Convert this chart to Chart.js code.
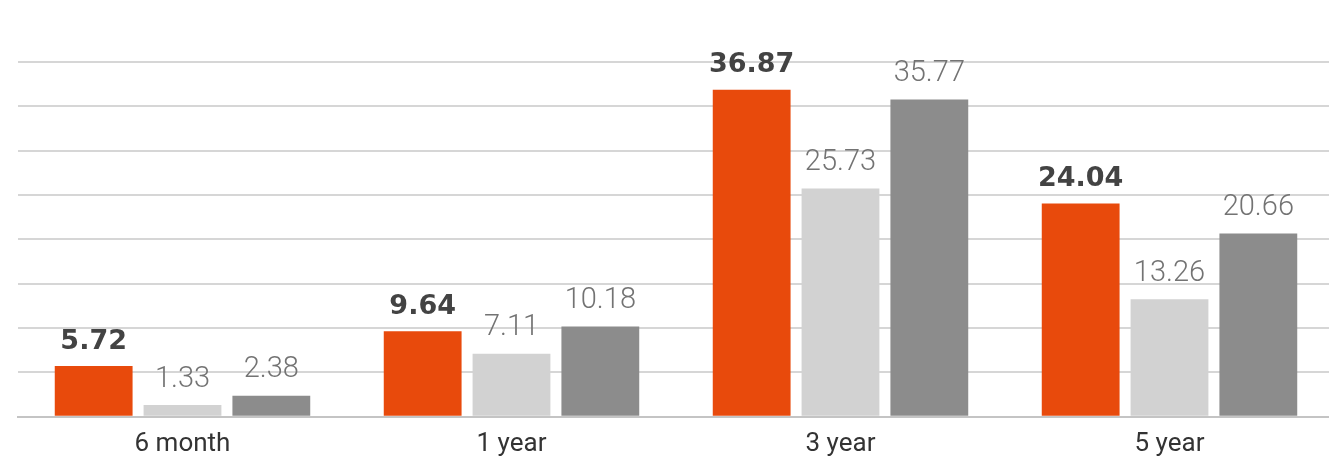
<!DOCTYPE html>
<html lang="en">
<head>
    <meta charset="UTF-8">
    <title>Returns</title>
    <script src="https://cdn.jsdelivr.net/npm/chart.js"></script>
    <style>
        body { margin: 0; overflow: hidden; background: #fff; }
        #wrap { width: 1334px; height: 459px; }
    </style>
</head>
<body>
    <div id="wrap">
    <canvas id="myChart"></canvas>
    </div>
    <script>
        const periods = ['6 month', '1 year', '3 year', '5 year'];
        const fundReturns = [5.72, 9.64, 36.87, 24.04];
        const benchmarkReturns = [1.33, 7.11, 25.73, 13.26];
        const categoryAverage = [2.38, 10.18, 35.77, 20.66];

        // value labels over every bar
        const barLabels = {
            id: 'barLabels',
            afterDatasetsDraw(chart) {
                const ctx = chart.ctx;
                ctx.save();
                ctx.textAlign = 'center';
                ctx.textBaseline = 'bottom';
                chart.data.datasets.forEach((ds, i) => {
                    const meta = chart.getDatasetMeta(i);
                    if (i === 0) {
                        ctx.font = 'bold 27px "DejaVu Sans"';
                        ctx.fillStyle = '#434343';
                    } else {
                        ctx.font = '300 29px Roboto';
                        ctx.fillStyle = '#737373';
                    }
                    meta.data.forEach((bar, j) => {
                        ctx.fillText(ds.data[j].toFixed(2), bar.x, bar.y - 11);
                    });
                });
                ctx.restore();
            }
        };

        const data = {
            labels: periods,
            datasets: [
                { label: 'Fund', data: fundReturns, backgroundColor: '#e84a0c' },
                { label: 'Index', data: benchmarkReturns, backgroundColor: '#d2d2d2' },
                { label: 'Category Average', data: categoryAverage, backgroundColor: '#8c8c8c' }
            ]
        };

        const config = {
            type: 'bar',
            data: data,
            options: {
                responsive: true,
                maintainAspectRatio: false,
                animation: false,
                layout: { padding: { top: 62, left: 18, right: 0, bottom: -13 } },
                datasets: {
                    bar: { categoryPercentage: 0.81, barPercentage: 0.876 }
                },
                plugins: {
                    legend: { display: false },
                    tooltip: { enabled: false }
                },
                scales: {
                    x: {
                        grid: { display: false, drawTicks: false },
                        border: { display: true, color: '#c4c4c4', width: 2 },
                        ticks: {
                            padding: 12,
                            color: '#333',
                            font: { family: 'Roboto', size: 26, weight: '400' }
                        }
                    },
                    y: {
                        min: 0,
                        max: 40,
                        ticks: { display: false, stepSize: 5 },
                        border: { display: false },
                        grid: { color: '#d6d6d6', lineWidth: 2, drawTicks: false }
                    }
                }
            },
            plugins: [barLabels]
        };

        const ctx = document.getElementById('myChart').getContext('2d');
        const myChart = new Chart(ctx, config);
    </script>
</body>
</html>
